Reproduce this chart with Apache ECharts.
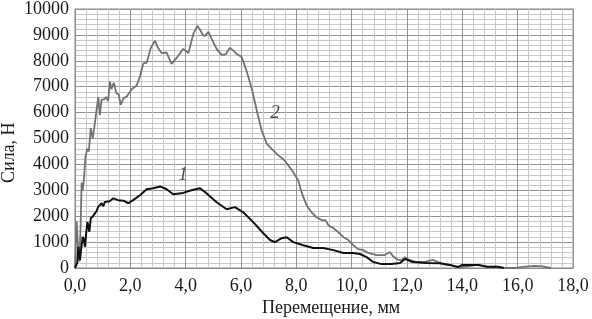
<!DOCTYPE html>
<html>
<head>
<meta charset="utf-8">
<script src="https://cdn.jsdelivr.net/npm/echarts@6/dist/echarts.min.js"></script>
<style>
  html, body { margin: 0; padding: 0; background: #fff; }
  #chart { width: 592px; height: 319px; }
</style>
</head>
<body>
<div id="chart"></div>
<script>
// кривая 2 (серая) — перемещение, мм / сила, Н
const curve2X = [0, 0.06, 0.12, 0.16, 0.2, 0.24, 0.28, 0.32, 0.38, 0.44, 0.5, 0.57, 0.64, 0.72, 0.78, 0.84, 0.9, 0.96, 1.04, 1.12, 1.2, 1.26, 1.32, 1.4, 1.45, 1.5, 1.58, 1.65, 1.75, 1.87, 2.05, 2.12, 2.23, 2.35, 2.47, 2.59, 2.74, 2.89, 3.0, 3.13, 3.31, 3.49, 3.68, 3.91, 4.1, 4.28, 4.42, 4.52, 4.62, 4.7, 4.82, 4.94, 5.12, 5.3, 5.45, 5.6, 5.72, 5.84, 6.02, 6.2, 6.39, 6.57, 6.75, 6.93, 7.11, 7.35, 7.53, 7.65, 7.89, 8.07, 8.19, 8.37, 8.55, 8.73, 8.92, 9.05, 9.16, 9.34, 9.52, 9.7, 9.88, 10.06, 10.24, 10.42, 10.6, 10.9, 11.2, 11.38, 11.5, 11.68, 11.8, 11.93, 12.05, 12.3, 12.6, 12.95, 13.3, 13.6, 13.85, 14.2, 14.5, 14.9, 15.2, 15.4, 15.9, 16.2, 16.6, 16.9, 17.2];
const curve2Y = [0, 1800, 600, 250, 1500, 3300, 3000, 3400, 4300, 4600, 4500, 5400, 5000, 5600, 5600, 6600, 5900, 6500, 6500, 6600, 6450, 7200, 6900, 7150, 7150, 6750, 6700, 6300, 6550, 6620, 6900, 6850, 7050, 7400, 7900, 7920, 8500, 8780, 8500, 8300, 8320, 7880, 8120, 8460, 8300, 9050, 9350, 9200, 9000, 8960, 9120, 8850, 8460, 8230, 8250, 8500, 8400, 8270, 8150, 7620, 6920, 6080, 5300, 4800, 4600, 4350, 4200, 4050, 3700, 3380, 2920, 2420, 2150, 1960, 1850, 1850, 1650, 1540, 1380, 1190, 1080, 880, 730, 690, 580, 500, 500, 620, 450, 310, 300, 420, 320, 250, 230, 310, 150, 100, 20, 60, 120, 40, 50, 0, 0, 40, 80, 60, 0];

// кривая 1 (чёрная)
const curve1X = [0, 0.04, 0.08, 0.12, 0.18, 0.22, 0.28, 0.32, 0.36, 0.4, 0.45, 0.52, 0.57, 0.65, 0.72, 0.78, 0.84, 0.9, 0.96, 1.02, 1.08, 1.15, 1.25, 1.38, 1.56, 1.75, 1.93, 2.1, 2.35, 2.59, 2.83, 3.07, 3.31, 3.55, 3.91, 4.21, 4.52, 4.76, 5.12, 5.48, 5.78, 6.08, 6.44, 6.8, 7.05, 7.23, 7.47, 7.65, 7.89, 8.25, 8.61, 8.97, 9.34, 9.7, 10.06, 10.3, 10.54, 10.78, 11.08, 11.44, 11.75, 11.93, 12.2, 12.7, 13.2, 13.55, 13.85, 14.0, 14.6, 14.9, 15.3, 15.5];
const curve1Y = [0, 0, 200, 820, 300, 700, 1200, 1100, 820, 1300, 1780, 1400, 1920, 2000, 2110, 2200, 2360, 2300, 2500, 2380, 2550, 2620, 2580, 2690, 2620, 2600, 2500, 2620, 2810, 3040, 3080, 3150, 3040, 2850, 2900, 3000, 3080, 2880, 2540, 2270, 2350, 2150, 1770, 1350, 1080, 1000, 1150, 1190, 1000, 880, 770, 770, 690, 580, 580, 540, 420, 230, 150, 150, 190, 350, 230, 190, 180, 120, 40, 120, 120, 50, 50, 0];

// подписи кривых
const tagNames = ['1', '2'];
const tagX = [3.9, 7.23];
const tagY = [3580, 6000];

const xAxisName = 'Перемещение, мм';
const yAxisName = 'Сила, Н';

const serif = '"Liberation Serif", "DejaVu Serif", serif';

function zip(xs, ys) {
  const out = [];
  for (let i = 0; i < xs.length; i++) out.push([xs[i], ys[i]]);
  return out;
}

const myChart = echarts.init(document.getElementById('chart'));

const tagData = [];
for (let i = 0; i < tagNames.length; i++) {
  tagData.push({ name: tagNames[i], value: [tagX[i], tagY[i]] });
}

const option = {
  backgroundColor: '#fff',
  animation: false,
  grid: {
    left: 75, right: 19, top: 8, bottom: 51,
    show: true, borderColor: '#8a8a8a', borderWidth: 1
  },
  xAxis: {
    type: 'value',
    min: 0, max: 18, interval: 2,
    axisLine: { show: true, lineStyle: { color: '#8a8a8a', width: 1 } },
    axisTick: { show: false },
    axisLabel: {
      color: '#1a1a1a', fontFamily: serif, fontSize: 18, margin: 9,
      formatter: v => v.toFixed(1).replace('.', ',')
    },
    splitLine: { show: true, lineStyle: { color: '#939393', width: 1 } },
    minorTick: { show: false, splitNumber: 5 },
    minorSplitLine: { show: true, lineStyle: { color: '#c8c8c8', width: 1 } }
  },
  yAxis: {
    type: 'value',
    min: 0, max: 10000, interval: 1000,
    axisLine: { show: true, lineStyle: { color: '#8a8a8a', width: 1 } },
    axisTick: { show: false },
    axisLabel: {
      color: '#1a1a1a', fontFamily: serif, fontSize: 18, margin: 6,
      formatter: v => String(v)
    },
    splitLine: { show: true, lineStyle: { color: '#939393', width: 1 } },
    minorTick: { show: false, splitNumber: 5 },
    minorSplitLine: { show: true, lineStyle: { color: '#c8c8c8', width: 1 } }
  },
  graphic: [
    {
      type: 'text', left: 262, top: 299,
      style: { text: xAxisName, font: '18px ' + serif, fill: '#1a1a1a' }
    },
    {
      type: 'text', x: 0, y: 183, rotation: Math.PI / 2,
      style: { text: yAxisName, font: '18px ' + serif, fill: '#1a1a1a', verticalAlign: 'top' }
    }
  ],
  series: [
    {
      name: '2',
      type: 'line',
      data: zip(curve2X, curve2Y),
      showSymbol: false,
      lineStyle: { color: '#727272', width: 1.8 },
      z: 2
    },
    {
      name: '1',
      type: 'line',
      data: zip(curve1X, curve1Y),
      showSymbol: false,
      lineStyle: { color: '#111', width: 2 },
      z: 3
    },
    {
      name: 'tags',
      type: 'scatter',
      data: tagData,
      symbolSize: 1,
      itemStyle: { color: 'rgba(0,0,0,0)' },
      label: {
        show: true, position: 'inside', formatter: '{b}',
        fontFamily: serif, fontStyle: 'italic', fontSize: 19, color: '#222'
      },
      z: 4
    }
  ]
};

myChart.setOption(option);
</script>
</body>
</html>
